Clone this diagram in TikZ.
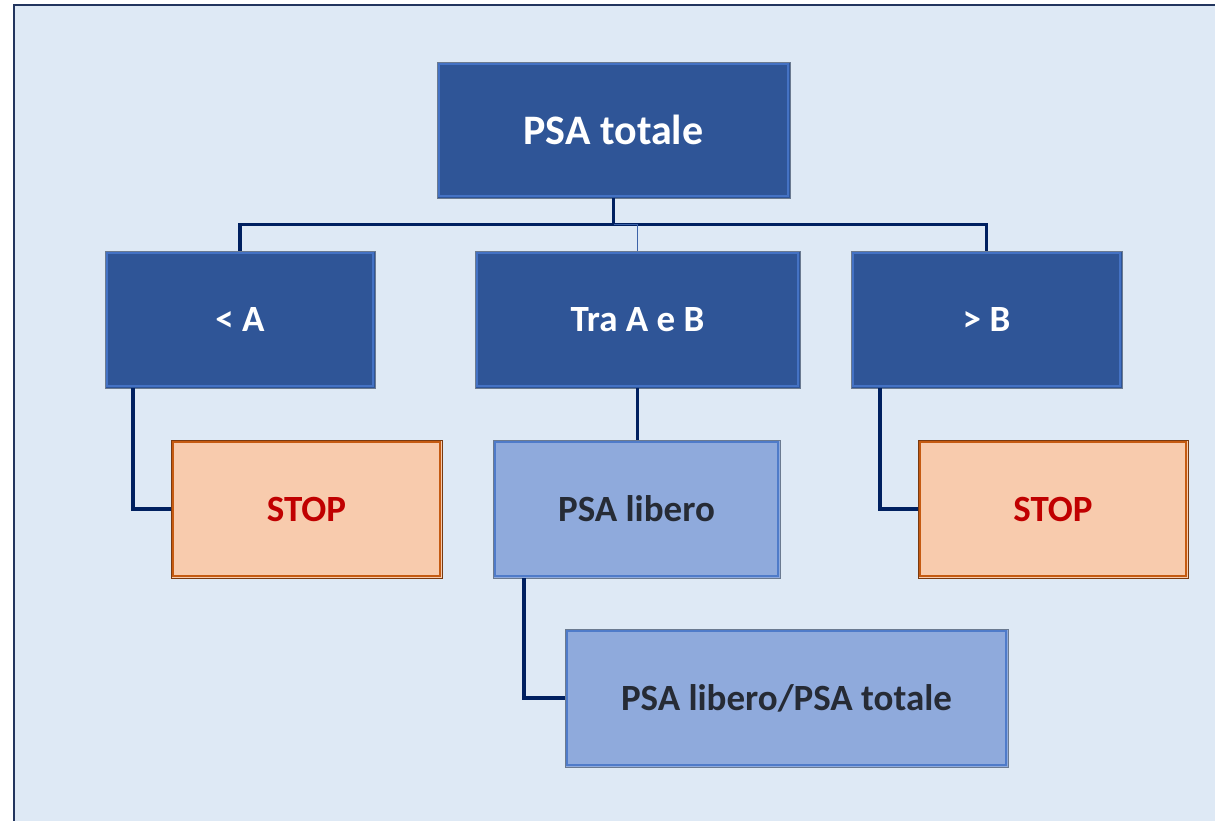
\documentclass[tikz,border=0pt]{standalone}
\usepackage{fontspec}
\setmainfont{Carlito}
\definecolor{pagebg}{HTML}{DEE9F5}
\definecolor{framecol}{HTML}{22355E}
\definecolor{darkfill}{HTML}{2F5597}
\definecolor{darkin}{HTML}{4472C4}
\definecolor{lightfill}{HTML}{8FAADC}
\definecolor{lightin}{HTML}{4F7BC9}
\definecolor{stopfill}{HTML}{F8CBAD}
\definecolor{stopin}{HTML}{C55A11}
\definecolor{stopout}{HTML}{7A3A10}
\definecolor{boxout}{HTML}{6B7A90}
\definecolor{linkcol}{HTML}{002060}
\definecolor{thinlink}{HTML}{3D63A8}
\definecolor{stoptext}{HTML}{C00000}
\definecolor{darktext}{HTML}{262B35}
\tikzset{
  x=1pt, y=-1pt,
  box/.style={rectangle, inner sep=0pt, line width=0.9pt,
    font=\fontsize{37}{44}\bfseries},
  darkbox/.style={box, fill=darkfill, draw=boxout, text=white},
  lightbox/.style={box, fill=lightfill, draw=boxout, text=darktext},
  stopbox/.style={box, fill=stopfill, draw=stopout, text=stoptext},
  link/.style={draw=linkcol, line width=3.2pt},
  thin link/.style={draw=thinlink, line width=1.8pt},
}
\begin{document}
\begin{tikzpicture}
  \useasboundingbox (0,0) rectangle (1215,820);
  \begin{scope}
    \clip (0,0) rectangle (1215,820);
    \draw[fill=pagebg, draw=framecol, line width=2.4pt] (14,5) rectangle (1240,850);
  \end{scope}

  % boxes
  \node[darkbox, minimum width=353pt, minimum height=136pt, font=\fontsize{42}{50}\bfseries] (top) at (613.5,130) {PSA totale};
  \node[darkbox, minimum width=270pt, minimum height=137pt] (lt) at (240,319.5) {< A};
  \node[darkbox, minimum width=325pt, minimum height=137pt] (mid) at (637.5,319.5) {Tra A e B};
  \node[darkbox, minimum width=271pt, minimum height=137pt] (rt) at (986.5,319.5) {> B};
  \node[stopbox, minimum width=271pt, minimum height=138pt] (stopL) at (306.5,509) {STOP};
  \node[lightbox, minimum width=287pt, minimum height=138pt] (free) at (636.5,509) {PSA libero};
  \node[stopbox, minimum width=270pt, minimum height=138pt] (stopR) at (1053,509) {STOP};
  \node[lightbox, minimum width=443pt, minimum height=138pt] (ratio) at (786.5,698) {PSA libero/PSA totale};

  % inner bevel lines
  \foreach \n/\c in {top/darkin, lt/darkin, mid/darkin, rt/darkin, free/lightin, ratio/lightin, stopL/stopin, stopR/stopin}
    \draw[draw=\c, line width=2.4pt] ([shift={(2.6,2.6)}]\n.north west) rectangle ([shift={(-2.6,-2.6)}]\n.south east);

  % connectors
  \coordinate (bus) at (613.5,224.5);
  \draw[link] (top.south) -- (bus);
  \draw[link] (lt.north) |- (bus) -| (rt.north);
  \draw[thin link] (bus) -| (mid.north);
  \draw[link] (mid.south) -- (mid.south |- free.north);
  \draw[link] ([xshift=-107pt]lt.south) |- (stopL.west);
  \draw[link] ([xshift=-106.5pt]rt.south) |- (stopR.west);
  \draw[link] ([xshift=-112.5pt]free.south) |- (ratio.west);
\end{tikzpicture}
\end{document}
